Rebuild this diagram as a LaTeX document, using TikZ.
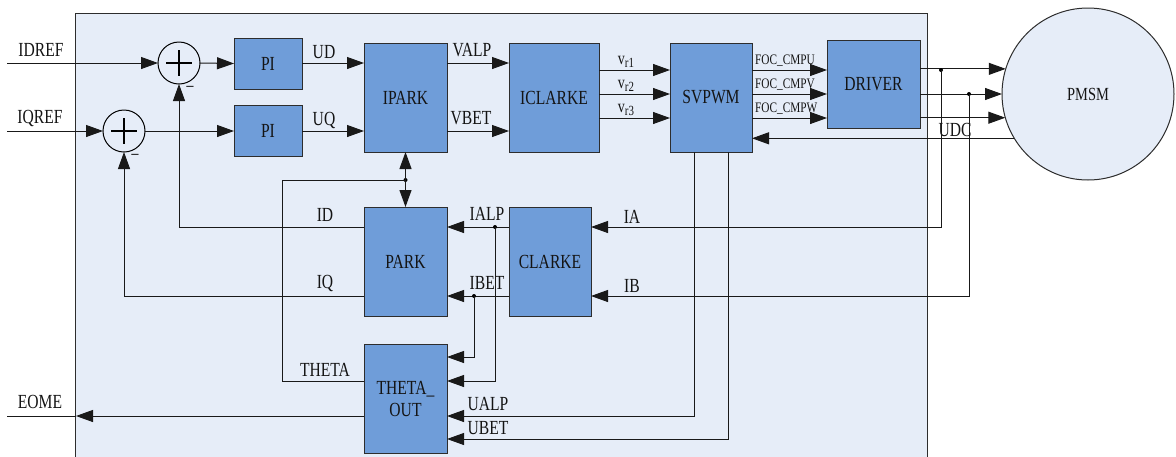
\documentclass[tikz,border=0pt]{standalone}
\usepackage{fontspec}
\setmainfont[FakeStretch=0.78]{Liberation Serif}
\usetikzlibrary{arrows.meta}
\definecolor{bgblue}{RGB}{230,237,248}
\definecolor{boxblue}{RGB}{111,157,217}
\definecolor{edge}{RGB}{45,45,45}
\definecolor{txt}{RGB}{20,20,20}
\definecolor{wirec}{RGB}{25,25,25}
\begin{document}
\begin{tikzpicture}[x=1pt,y=-1pt,
  blk/.style={draw=edge,fill=boxblue,line width=1pt,inner sep=0pt,outer sep=0pt,text=txt,font=\fontsize{20}{22}\selectfont,align=center},
  lbl/.style={text=txt,font=\fontsize{20}{21}\selectfont,inner sep=0pt},
  sml/.style={text=txt,font=\fontsize{14.5}{15}\selectfont,inner sep=0pt},
  vlbl/.style={text=txt,font=\fontsize{18}{19}\selectfont,inner sep=0pt},
  wire/.style={draw=wirec,line width=1pt},
  arr/.style={wire,-{Triangle[length=17pt,width=12pt]}},
  jdot/.style={circle,fill=black,inner sep=0pt,minimum size=4pt},
  sumc/.style={circle,draw=black,line width=1pt,fill=bgblue,minimum size=42pt,inner sep=0pt,outer sep=0pt},
  plus/.style={draw=black,line width=2.2pt},
]
\useasboundingbox (0,0) rectangle (1176,456);
% background panel
\fill[bgblue] (75,13) rectangle (927,470);
\draw[edge,line width=1pt] (75,470) -- (75,13) -- (927,13) -- (927,470);

% level coordinates
\coordinate (r1) at (0,63);
\coordinate (r2) at (0,131);
\coordinate (v1) at (0,70);
\coordinate (v2) at (0,94);
\coordinate (v3) at (0,118);
\coordinate (ia) at (0,227);
\coordinate (ib) at (0,296);
\coordinate (t1) at (0,357);
\coordinate (t2) at (0,381);
\coordinate (ua) at (0,416);
\coordinate (ub) at (0,439);

% blocks
\node[sumc] (S1) at (179,63) {};
\node[sumc] (S2) at (124,131) {};
\draw[plus] (S1.center) ++(-13,0) -- ++(26,0);
\draw[plus] (S1.center) ++(0,-13) -- ++(0,26);
\draw[plus] (S2.center) ++(-13,0) -- ++(26,0);
\draw[plus] (S2.center) ++(0,-13) -- ++(0,26);

\node[blk,minimum width=68pt,minimum height=51pt] (PI1) at (268,63.5) {PI};
\node[blk,minimum width=68pt,minimum height=51pt] (PI2) at (268,130.5) {PI};
\node[blk,minimum width=83pt,minimum height=109pt] (IPARK) at (405.5,97.5) {IPARK};
\node[blk,minimum width=90pt,minimum height=109pt] (ICLARKE) at (554,97.5) {ICLARKE};
\node[blk,minimum width=82pt,minimum height=109pt] (SVPWM) at (711,97.5) {SVPWM};
\node[blk,minimum width=93pt,minimum height=88pt] (DRIVER) at (873.5,84) {DRIVER};
\node[blk,minimum width=83pt,minimum height=109pt] (PARK) at (405.5,261.5) {PARK};
\node[blk,minimum width=82pt,minimum height=109pt] (CLARKE) at (550,261.5) {CLARKE};
\node[blk,minimum width=83pt,minimum height=109pt] (THOUT) at (405.5,398.5) {THETA\_\\OUT};
\node[circle,draw=edge,line width=1pt,fill=bgblue,minimum size=172pt,inner sep=0pt,outer sep=0pt,text=txt,font=\fontsize{18.5}{19}\selectfont] (PMSM) at (1088,94) {PMSM};

% inputs
\coordinate (inD) at (7,63);
\coordinate (inQ) at (7,131);
\draw[arr] (inD) -- (S1.west);
\draw[arr] (inQ) -- (S2.west);
\node[lbl] (lIDREF) at (41,50) {IDREF};
\node[lbl] (lIQREF) at (40,118) {IQREF};
\node[lbl] (m1) at (190,90) {−};
\node[lbl] (m2) at (135,158) {−};

% forward path
\draw[arr] (S1.east) -- (PI1.west);
\draw[arr] (S2.east) -- (PI2.west |- S2.east);
\draw[arr] (PI1.east |- r1) -- (IPARK.west |- r1);
\draw[arr] (PI2.east |- r2) -- (IPARK.west |- r2);
\node[lbl] (lUD) at (324,52) {UD};
\node[lbl] (lUQ) at (324,120) {UQ};
\draw[arr] (IPARK.east |- r1) -- (ICLARKE.west |- r1);
\draw[arr] (IPARK.east |- r2) -- (ICLARKE.west |- r2);
\node[lbl] (lVALP) at (472,50) {VALP};
\node[lbl] (lVBET) at (471,118) {VBET};
\draw[arr] (ICLARKE.east |- v1) -- (SVPWM.west |- v1);
\draw[arr] (ICLARKE.east |- v2) -- (SVPWM.west |- v2);
\draw[arr] (ICLARKE.east |- v3) -- (SVPWM.west |- v3);
\node[vlbl] (lv1) at (626,62) {v\raisebox{-3pt}{\fontsize{14}{14}\selectfont r1}};
\node[vlbl] (lv2) at (626,86) {v\raisebox{-3pt}{\fontsize{14}{14}\selectfont r2}};
\node[vlbl] (lv3) at (626,110) {v\raisebox{-3pt}{\fontsize{14}{14}\selectfont r3}};
\draw[arr] (SVPWM.east |- v1) -- (DRIVER.west |- v1);
\draw[arr] (SVPWM.east |- v2) -- (DRIVER.west |- v2);
\draw[arr] (SVPWM.east |- v3) -- (DRIVER.west |- v3);
\node[sml,anchor=west] (lFU) at (755,61) {FOC\_CMPU};
\node[sml,anchor=west] (lFV) at (755,85) {FOC\_CMPV};
\node[sml,anchor=west] (lFW) at (755,109) {FOC\_CMPW};

% driver to motor
\draw[arr] (DRIVER.east |- PMSM.163.8) -- (PMSM.163.8);
\draw[arr] (DRIVER.east |- PMSM.west) -- (PMSM.west);
\draw[arr] (DRIVER.east |- PMSM.196.2) -- (PMSM.196.2);
\draw[arr] (PMSM.211.5) -- (SVPWM.east |- PMSM.211.5);
\node[lbl] (lUDC) at (955,130) {UDC};

% current feedback
\node[jdot] (dA) at (941,70) {};
\node[jdot] (dB) at (969,94) {};
\draw[arr] (dA.center) |- (CLARKE.east |- ia);
\draw[arr] (dB.center) |- (CLARKE.east |- ib);
\node[lbl] (lIA) at (632,217) {IA};
\node[lbl] (lIB) at (632,286) {IB};
\draw[arr] (CLARKE.west |- ia) -- (PARK.east |- ia);
\draw[arr] (CLARKE.west |- ib) -- (PARK.east |- ib);
\node[lbl] (lIALP) at (487,214) {IALP};
\node[lbl] (lIBET) at (487,283) {IBET};
\node[jdot] (dIa) at (495,227) {};
\node[jdot] (dIb) at (474,296) {};
\draw[arr] (dIa.center) |- (THOUT.east |- t2);
\draw[arr] (dIb.center) |- (THOUT.east |- t1);

% SVPWM outputs to THETA_OUT
\coordinate (uaX) at (694,416);
\coordinate (ubX) at (728,439);
\draw[arr] (SVPWM.south -| uaX) |- (THOUT.east |- ua);
\draw[arr] (SVPWM.south -| ubX) |- (THOUT.east |- ub);
\node[lbl] (lUALP) at (488,404) {UALP};
\node[lbl] (lUBET) at (488,428) {UBET};

% theta distribution
\coordinate (thL) at (282,180);
\node[jdot] (thd) at (405.5,180) {};
\draw[wire] (THOUT.west |- t2) -| (thL) -- (thd.center);
\draw[arr] (thd.center) -- (IPARK.south);
\draw[arr] (thd.center) -- (PARK.north);
\node[lbl] (lTH) at (325,370) {THETA};

% id / iq feedback
\draw[arr] (PARK.west |- ia) -| (S1.south);
\draw[arr] (PARK.west |- ib) -| (S2.south);
\node[lbl] (lID) at (325,215) {ID};
\node[lbl] (lIQ) at (325,283) {IQ};

% speed output
\coordinate (eTip) at (76,416);
\coordinate (eEnd) at (7,416);
\draw[arr] (THOUT.west |- ua) -- (eTip);
\draw[wire] (eTip) -- (eEnd);
\node[lbl] (lEOME) at (40,402) {EOME};
\end{tikzpicture}
\end{document}
